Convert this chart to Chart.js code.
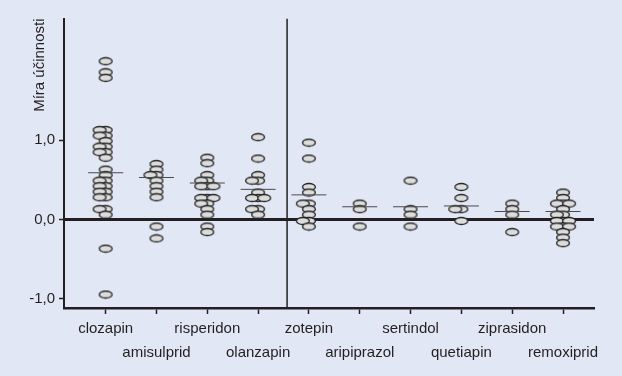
<!DOCTYPE html>
<html lang="cs">
<head>
<meta charset="UTF-8">
<title>Míra účinnosti</title>
<script src="https://cdn.jsdelivr.net/npm/chart.js@4"></script>
<style>
  html, body { margin: 0; padding: 0; background: #e1e7f4; }
  #wrap { width: 622px; height: 376px; }
</style>
</head>
<body>
<div id="wrap"><canvas id="chart" width="622" height="376"></canvas></div>
<script>
// data
const categories = ['clozapin', 'amisulprid', 'risperidon', 'olanzapin', 'zotepin',
                    'aripiprazol', 'sertindol', 'quetiapin', 'ziprasidon', 'remoxiprid'];
const clozapin = [2.00, 1.86, 1.79, 1.13, 1.13, 1.06, 1.06, 0.99, 0.92, 0.92, 0.85, 0.85, 0.78,
                  0.63, 0.56, 0.49, 0.49, 0.42, 0.42, 0.35, 0.35, 0.28, 0.28, 0.13, 0.13, 0.06, -0.37, -0.95];
const amisulprid = [0.70, 0.63, 0.56, 0.56, 0.49, 0.42, 0.35, 0.28, -0.09, -0.24];
const risperidon = [0.78, 0.71, 0.56, 0.49, 0.49, 0.42, 0.42, 0.42, 0.27, 0.27, 0.27, 0.20, 0.20, 0.13, 0.06, -0.09, -0.16];
const olanzapin = [1.04, 0.77, 0.56, 0.49, 0.49, 0.34, 0.27, 0.27, 0.27, 0.13, 0.13, 0.06];
const zotepin = [0.97, 0.77, 0.41, 0.34, 0.20, 0.20, 0.13, 0.06, -0.02, -0.02, -0.09];
const aripiprazol = [0.20, 0.13, -0.09];
const sertindol = [0.49, 0.13, 0.06, -0.09];
const quetiapin = [0.41, 0.27, 0.13, 0.13, -0.02];
const ziprasidon = [0.20, 0.13, 0.06, -0.16];
const remoxiprid = [0.34, 0.27, 0.20, 0.20, 0.20, 0.13, 0.06, 0.06, -0.02, -0.02, -0.02,
                    -0.09, -0.09, -0.09, -0.16, -0.23, -0.30];
const medians = [0.59, 0.53, 0.46, 0.38, 0.31, 0.16, 0.16, 0.17, 0.10, 0.10];
const yTicks = [-1, 0, 1];
const separatorAt = 3.57; // between olanzapin and zotepin

const groups = [clozapin, amisulprid, risperidon, olanzapin, zotepin,
                aripiprazol, sertindol, quetiapin, ziprasidon, remoxiprid];

// simple dodge so overlapping points sit side by side
function dodge(vals, i) {
  const placed = [];
  const offsets = [0, -0.12, 0.12, -0.24, 0.24];
  return vals.map(v => {
    for (const off of offsets) {
      if (!placed.some(p => Math.abs(p.x - off) < 0.01 && Math.abs(p.y - v) < 0.06)) {
        placed.push({ x: off, y: v });
        return { x: i + off, y: v };
      }
    }
    return { x: i, y: v };
  });
}
const points = groups.flatMap((g, i) => dodge(g, i));

// open ellipse marker
const ell = document.createElement('canvas');
ell.width = 16; ell.height = 10;
const ec = ell.getContext('2d');
ec.beginPath();
ec.ellipse(8, 5, 6.4, 3.5, 0, 0, Math.PI * 2);
ec.fillStyle = '#dcdcdc';
ec.fill();
ec.lineWidth = 1.3;
ec.strokeStyle = '#262626';
ec.stroke();

const dark = '#231f20';
const font = { family: "'Liberation Sans', Arial, sans-serif", size: 15 };

const bg = {
  id: 'bg',
  beforeDraw(chart) {
    const c = chart.ctx;
    c.save();
    c.fillStyle = '#e1e7f4';
    c.fillRect(0, 0, chart.width, chart.height);
    c.restore();
  }
};

new Chart(document.getElementById('chart'), {
  type: 'scatter',
  data: {
    datasets: [
      {
        data: points,
        pointStyle: ell,
        pointRadius: 6,
        order: 2
      },
      {
        data: medians.map((m, i) => ({ x: i, y: m })),
        pointStyle: 'line',
        pointRadius: 17.5,
        pointBorderColor: '#4a4a4a',
        pointBorderWidth: 1,
        order: 1
      },
      {
        type: 'line',
        data: [{ x: separatorAt, y: 2.54 }, { x: separatorAt, y: -1.12 }],
        borderColor: dark,
        borderWidth: 1.5,
        pointRadius: 0,
        order: 3
      }
    ]
  },
  options: {
    responsive: false,
    animation: false,
    devicePixelRatio: 1,
    layout: { padding: { left: 0, top: 14, right: 28, bottom: 0 } },
    plugins: { legend: { display: false }, tooltip: { enabled: false } },
    scales: {
      x: {
        type: 'linear',
        min: -0.82,
        max: 9.61,
        afterBuildTicks: s => { s.ticks = categories.map((_, i) => ({ value: i })); },
        afterFit: s => { s.height = 68; },
        ticks: {
          font: { ...font, lineHeight: 1.66 },
          color: dark,
          padding: 2,
          maxRotation: 0,
          autoSkip: false,
          callback: v => {
            const i = Math.round(v);
            return i % 2 === 0 ? [categories[i]] : ['', categories[i]];
          }
        },
        grid: { drawOnChartArea: false, drawTicks: true, tickLength: 6, tickColor: dark, tickWidth: 1.5 },
        border: { display: true, color: dark, width: 2.5 }
      },
      y: {
        min: -1.12,
        max: 2.54,
        afterBuildTicks: s => { s.ticks = yTicks.map(v => ({ value: v })); },
        afterFit: s => { s.width = 64; },
        ticks: {
          font: font,
          color: dark,
          padding: 4,
          callback: v => v.toFixed(1).replace('.', ',')
        },
        grid: {
          drawTicks: true,
          tickLength: 5,
          tickColor: dark,
          tickWidth: 1.5,
          color: ctx => (ctx.tick && ctx.tick.value === 0 ? dark : 'rgba(0,0,0,0)'),
          lineWidth: ctx => (ctx.tick && ctx.tick.value === 0 ? 3 : 1)
        },
        border: { display: true, color: dark, width: 2 },
        title: {
          display: true,
          text: 'Míra účinnosti',
          align: 'end',
          color: dark,
          font: font,
          padding: { top: 31, bottom: 0 }
        }
      }
    }
  },
  plugins: [bg]
});
</script>
</body>
</html>
